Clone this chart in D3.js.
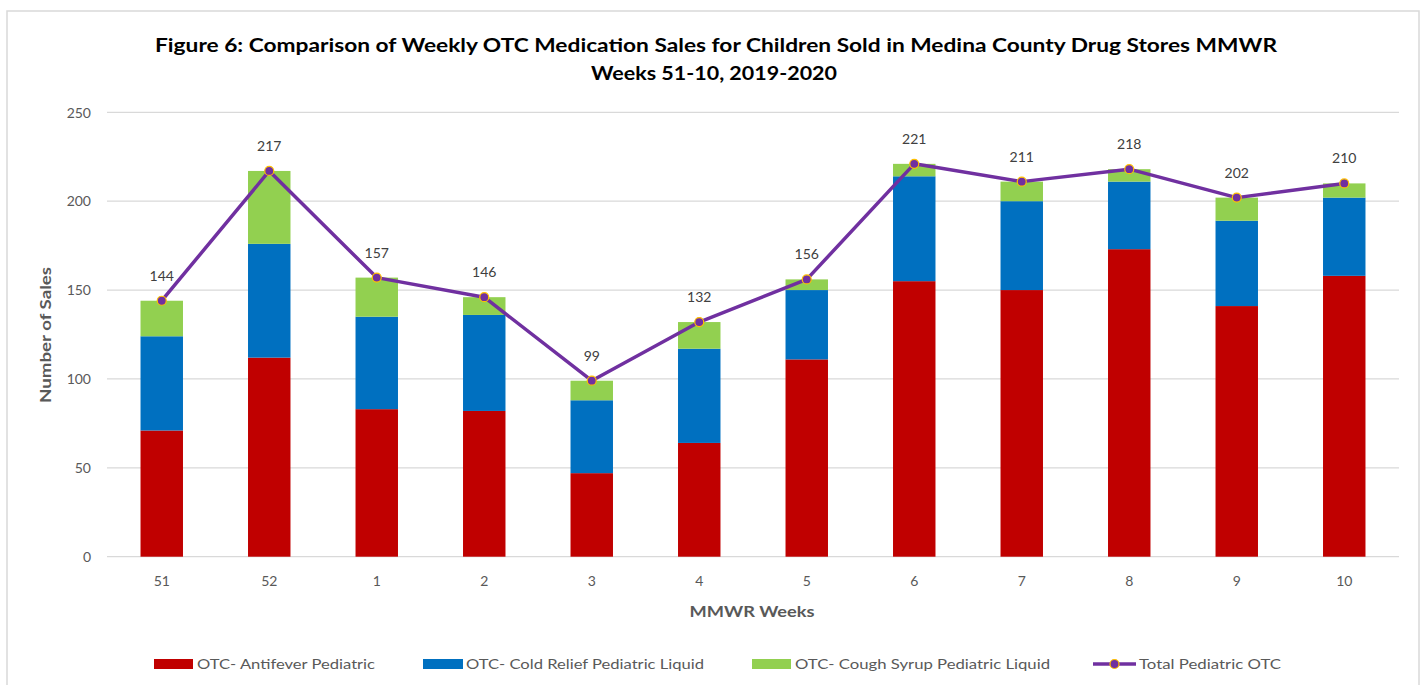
<!DOCTYPE html>
<html>
<head>
<meta charset="utf-8">
<script src="https://cdn.jsdelivr.net/npm/d3@7/dist/d3.min.js"></script>
<style>
  html, body { margin: 0; padding: 0; background: #fff; }
  svg { display: block; }
  text { font-family: Lato, "Open Sans", "Liberation Sans", sans-serif; }
</style>
</head>
<body>
<svg id="chart" width="1425" height="685"></svg>
<script>
const weeks = ["51", "52", "1", "2", "3", "4", "5", "6", "7", "8", "9", "10"];
const antifever = [71, 112, 83, 82, 47, 64, 111, 155, 150, 173, 141, 158];
const coldRelief = [53, 64, 52, 54, 41, 53, 39, 59, 50, 38, 48, 44];
const coughSyrup = [20, 41, 22, 10, 11, 15, 6, 7, 11, 7, 13, 8];
const totalOTC = [144, 217, 157, 146, 99, 132, 156, 221, 211, 218, 202, 210];
const yTicks = [0, 50, 100, 150, 200, 250];
const seriesNames = ["OTC- Antifever Pediatric", "OTC- Cold Relief Pediatric Liquid", "OTC- Cough Syrup Pediatric Liquid", "Total Pediatric OTC"];
const colors = ["#C00000", "#0070C0", "#92D050", "#7030A0"];

const svg = d3.select("#chart");

// outer border
svg.append("rect").attr("x", 7).attr("y", 11).attr("width", 1412).attr("height", 690)
  .attr("fill", "none").attr("stroke", "#d9d9d9").attr("stroke-width", 1.5);

const x = d3.scaleBand().domain(weeks).range([108, 1398]).paddingInner(0.605).paddingOuter(0.3025);
const y = d3.scaleLinear().domain([0, 250]).range([556.7, 112.3]);

// gridlines
svg.append("g").selectAll("line").data(yTicks).join("line")
  .attr("x1", 107).attr("x2", 1399)
  .attr("y1", d => y(d)).attr("y2", d => y(d))
  .attr("stroke", "#d9d9d9").attr("stroke-width", 1.2);

// y axis labels
const yAxis = d3.axisLeft(y).tickValues(yTicks).tickSize(0).tickPadding(0);
const gy = svg.append("g").attr("transform", "translate(91,0)").call(yAxis);
gy.select(".domain").remove();
gy.selectAll("text").attr("fill", "#595959").style("font-size", "14px").attr("dy", "0.34em");

// x axis labels
const xAxis = d3.axisBottom(x).tickSize(0).tickPadding(0);
const gx = svg.append("g").attr("transform", "translate(0,575)").call(xAxis);
gx.select(".domain").remove();
gx.selectAll("text").attr("fill", "#595959").style("font-size", "14px").attr("dy", "0.75em");

// stacked bars
const table = weeks.map((w, i) => ({ week: w, a: antifever[i], b: coldRelief[i], c: coughSyrup[i] }));
const stack = d3.stack().keys(["a", "b", "c"])(table);
svg.append("g").selectAll("g").data(stack).join("g")
  .attr("fill", (d, i) => colors[i])
  .selectAll("rect").data(d => d).join("rect")
  .attr("x", d => x(d.data.week))
  .attr("width", x.bandwidth())
  .attr("y", d => y(d[1]))
  .attr("height", d => y(d[0]) - y(d[1]));

// total line
const line = d3.line().x((d, i) => x(weeks[i]) + x.bandwidth() / 2).y(d => y(d));
svg.append("path").datum(totalOTC).attr("d", line)
  .attr("fill", "none").attr("stroke", colors[3]).attr("stroke-width", 3.5).attr("stroke-linejoin", "round");
svg.append("g").selectAll("circle").data(totalOTC).join("circle")
  .attr("cx", (d, i) => x(weeks[i]) + x.bandwidth() / 2)
  .attr("cy", d => y(d)).attr("r", 4.5)
  .attr("fill", colors[3]).attr("stroke", "#FFC000").attr("stroke-width", 1.2);

// data labels
svg.append("g").selectAll("text").data(totalOTC).join("text")
  .attr("x", (d, i) => x(weeks[i]) + x.bandwidth() / 2)
  .attr("y", d => y(d) - 20)
  .attr("text-anchor", "middle").attr("fill", "#404040").style("font-size", "14px")
  .text(d => d);

// title
svg.append("text").attr("x", 716).attr("y", 52).attr("text-anchor", "middle")
  .attr("fill", "#000").style("font-size", "18px").style("font-weight", "bold")
  .attr("textLength", 1122).attr("lengthAdjust", "spacingAndGlyphs")
  .text("Figure 6: Comparison of Weekly OTC Medication Sales for Children Sold in Medina County Drug Stores MMWR");
svg.append("text").attr("x", 714).attr("y", 80).attr("text-anchor", "middle")
  .attr("fill", "#000").style("font-size", "18px").style("font-weight", "bold")
  .attr("textLength", 246).attr("lengthAdjust", "spacingAndGlyphs")
  .text("Weeks 51-10, 2019-2020");

// axis titles
svg.append("text").attr("x", 752).attr("y", 617).attr("text-anchor", "middle")
  .attr("fill", "#595959").style("font-size", "16px").style("font-weight", "bold")
  .attr("textLength", 125).attr("lengthAdjust", "spacingAndGlyphs")
  .text("MMWR Weeks");
svg.append("text").attr("transform", "translate(51,335) rotate(-90)").attr("text-anchor", "middle")
  .attr("fill", "#595959").style("font-size", "15px").style("font-weight", "bold")
  .attr("textLength", 136).attr("lengthAdjust", "spacingAndGlyphs")
  .text("Number of Sales");

// legend
const legendItems = [
  { sx: 154, sw: 39, tx: 197, tw: 178 },
  { sx: 423, sw: 40, tx: 466, tw: 238 },
  { sx: 752, sw: 39, tx: 795, tw: 255 },
  { sx: 1093, sw: 43, tx: 1139, tw: 142 }
];
const lg = svg.append("g");
legendItems.forEach((it, i) => {
  if (i < 3) {
    lg.append("rect").attr("x", it.sx).attr("y", 659).attr("width", it.sw).attr("height", 10).attr("fill", colors[i]);
  } else {
    lg.append("line").attr("x1", it.sx).attr("x2", it.sx + it.sw).attr("y1", 664).attr("y2", 664)
      .attr("stroke", colors[3]).attr("stroke-width", 3.5);
    lg.append("circle").attr("cx", it.sx + it.sw / 2).attr("cy", 664).attr("r", 4.5)
      .attr("fill", colors[3]).attr("stroke", "#FFC000").attr("stroke-width", 1.2);
  }
  lg.append("text").attr("x", it.tx).attr("y", 669).attr("fill", "#595959").style("font-size", "14px")
    .attr("textLength", it.tw).attr("lengthAdjust", "spacingAndGlyphs")
    .text(seriesNames[i]);
});
</script>
</body>
</html>
